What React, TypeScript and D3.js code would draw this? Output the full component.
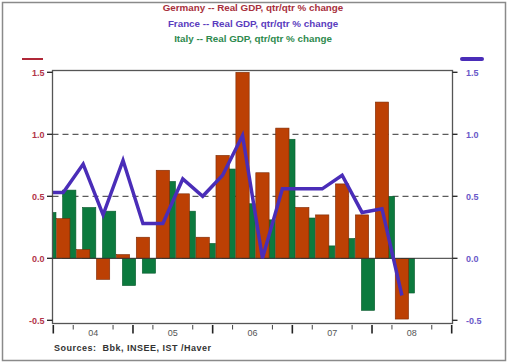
import React from "react";
import * as d3 from "d3";

const quarters = ["2003Q4","2004Q1","2004Q2","2004Q3","2004Q4","2005Q1","2005Q2","2005Q3","2005Q4","2006Q1","2006Q2","2006Q3","2006Q4","2007Q1","2007Q2","2007Q3","2007Q4","2008Q1","2008Q2"];
const germany: (number | null)[] = [null,0.32,0.07,-0.17,0.03,0.17,0.71,0.52,0.17,0.83,1.50,0.69,1.05,0.41,0.35,0.60,0.35,1.26,-0.49];
const france = [0.53,0.53,0.76,0.35,0.79,0.28,0.28,0.64,0.50,0.67,0.99,0.0,0.56,0.56,0.56,0.67,0.37,0.40,-0.30];
const italy = [0.37,0.55,0.41,0.38,-0.22,-0.12,0.62,0.38,0.12,0.72,0.44,0.31,0.96,0.325,0.10,0.16,-0.42,0.50,-0.28];
const yearLabels = ["04","05","06","07","08"];
const yTicks = [1.5,1.0,0.5,0.0,-0.5];
const gridValues = [0.5,1.0];
const titles = [
  { text: "Germany -- Real GDP, qtr/qtr % change", color: "#A8303C" },
  { text: "France -- Real GDP, qtr/qtr % change", color: "#5A3CBE" },
  { text: "Italy -- Real GDP, qtr/qtr % change", color: "#2E8A4E" },
];

const W = 510, H = 363;
const L = 52.5, R = 452.5, T = 70.5, B = 323.5;
const FONT = "'Liberation Sans', Arial, sans-serif";

export default function App() {
  // index 0 = 2003Q4; 2004Q1 starts at axis left edge
  const x = d3.scaleLinear().domain([1, 21]).range([53.3, 451.7]);
  const y = d3.scaleLinear().domain([-0.5, 1.5]).range([320.3, 72.3]);
  const barW = 13.3;
  const center = (i: number) => x(i + 0.5);
  const line = d3.line<number>().x((_, i) => center(i)).y((d) => y(d));
  const orange = "#BC4004";
  const green = "#0C7A3E";
  const purple = "#4A2DB8";

  const majorTicks = d3.range(0, 6).map((k) => x(1 + 4 * k));
  const minorTicks = d3.range(0, 5).flatMap((k) => [x(2 + 4 * k), x(4 + 4 * k)]);

  return (
    <svg width={W} height={H} style={{ position: "absolute", left: 0, top: 0, background: "#fff" }} fontFamily={FONT}>
      <rect x={2.5} y={2.5} width={503} height={358} fill="#fff" stroke="#8a8a8a" strokeWidth={1.5} />
      {titles.map((t, i) => (
        <text key={t.text} x={253} y={11 + i * 15.5} textAnchor="middle" fontSize={9.8} fontWeight="bold" fill={t.color}>{t.text}</text>
      ))}
      <line x1={22} x2={43} y1={59} y2={59} stroke="#B02838" strokeWidth={2} />
      <line x1={462} x2={482} y1={59} y2={59} stroke={purple} strokeWidth={4} strokeLinecap="round" />
      <defs>
        <clipPath id="plot"><rect x={L} y={T} width={R - L} height={B - T} /></clipPath>
      </defs>
      <g clipPath="url(#plot)">
        {gridValues.map((v) => (
          <line key={v} x1={L} x2={R} y1={y(v)} y2={y(v)} stroke="#333" strokeWidth={1} strokeDasharray="6,4" />
        ))}
        {italy.map((v, i) => (
          <rect key={"i" + i} x={x(i) + 9.3} width={barW} y={Math.min(y(v), y(0))} height={Math.abs(y(v) - y(0))} fill={green} stroke="#0a5a2e" strokeWidth={0.6} />
        ))}
        {germany.map((v, i) => v == null ? null : (
          <rect key={"g" + i} x={x(i) + 3.3} width={barW} y={Math.min(y(v), y(0))} height={Math.abs(y(v) - y(0))} fill={orange} stroke="#7c2a04" strokeWidth={0.6} />
        ))}
        <line x1={L} x2={R} y1={y(0)} y2={y(0)} stroke="#333" strokeWidth={1} />
        <path d={line(france) || ""} fill="none" stroke={purple} strokeWidth={3.5} strokeLinejoin="miter" />
      </g>
      <rect x={L} y={T} width={R - L} height={B - T} fill="none" stroke="#555" strokeWidth={1.3} />
      {yTicks.map((v) => (
        <g key={v}>
          <line x1={47} x2={L} y1={y(v)} y2={y(v)} stroke="#222" strokeWidth={1.3} />
          <line x1={R} x2={457.5} y1={y(v)} y2={y(v)} stroke="#222" strokeWidth={1.3} />
          <text x={44.5} y={y(v) + 3.3} textAnchor="end" fontSize={9} fontWeight="bold" fill="#B23448">{v.toFixed(1)}</text>
          <text x={466} y={y(v) + 3.3} textAnchor="start" fontSize={9} fontWeight="bold" fill="#6A58C8">{v.toFixed(1)}</text>
        </g>
      ))}
      {majorTicks.map((t, k) => (
        <line key={"M" + k} x1={t} x2={t} y1={325} y2={333.5} stroke="#222" strokeWidth={1.6} />
      ))}
      {minorTicks.map((t, k) => (
        <line key={"m" + k} x1={t} x2={t} y1={325} y2={329.5} stroke="#444" strokeWidth={1} />
      ))}
      {yearLabels.map((lab, k) => (
        <text key={lab} x={x(3 + 4 * k)} y={336} textAnchor="middle" fontSize={9} fill="#555">{lab}</text>
      ))}
      <text x={54} y={350.5} fontSize={9} fontWeight="bold" fill="#333" letterSpacing={0.5} style={{ whiteSpace: "pre" }}>{"Sources:  Bbk, INSEE, IST /Haver"}</text>
    </svg>
  );
}
